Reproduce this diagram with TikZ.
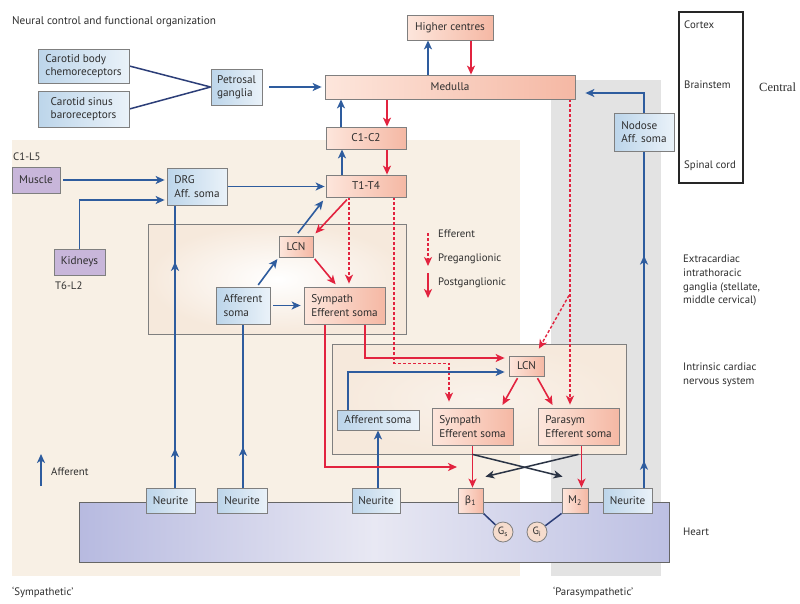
\documentclass[tikz,border=0pt]{standalone}
\usepackage{fontspec}
\setmainfont{PT Sans}
\newfontfamily\serifc{Liberation Serif}
\newfontfamily\dvs{DejaVu Sans}
\usetikzlibrary{arrows.meta,calc,decorations.markings}
\pgfdeclarelayer{bg}
\pgfdeclarelayer{lines}
\pgfsetlayers{bg,lines,main}
\definecolor{lblue}{HTML}{2E5C9E}
\definecolor{lred}{HTML}{E2233F}
\definecolor{dkline}{HTML}{2B3445}
\definecolor{boxgray}{HTML}{7F7F7F}
\definecolor{txt}{HTML}{2E2E2E}
\definecolor{pinkL}{HTML}{FDE6DC}
\definecolor{pinkR}{HTML}{F5B8A4}
\definecolor{blueL}{HTML}{BCD5EA}
\definecolor{blueR}{HTML}{EAF2F9}
\definecolor{purp}{HTML}{C8B6DA}
\definecolor{beige}{HTML}{F8F0E5}
\definecolor{grayb}{HTML}{E3E3E3}
\definecolor{exbg}{HTML}{F6E9DC}
\definecolor{heartL}{HTML}{B7BAE0}
\definecolor{heartM}{HTML}{E8E8F3}
\definecolor{heartR}{HTML}{BDC0E3}
\definecolor{gfill}{HTML}{F6DCCD}
\definecolor{HTML2}{HTML}{2C3E78}
\tikzset{
  box/.style={draw=boxgray, line width=0.8pt, inner sep=2pt, align=left,
    font=\fontsize{11.2}{13.5}\selectfont, text=txt},
  pbox/.style={box, left color=pinkL, right color=pinkR},
  bbox/.style={box, left color=blueL, right color=blueR},
  ubox/.style={box, fill=purp, draw=boxgray},
  tip/.style={-{Stealth[length=9pt,width=8pt,inset=2.5pt]}},
  bl/.style={draw=lblue, line width=1.6pt},
  barr/.style={bl, tip},
  rl/.style={draw=lred, line width=1.6pt},
  rarr/.style={rl, tip},
  rdash/.style={rarr, line width=1.4pt, dash pattern=on 3pt off 2pt},
  darr/.style={draw=dkline, line width=1.5pt, tip},
  dkl/.style={draw=HTML2, line width=1.5pt},
  midarr/.style={postaction={decorate, decoration={markings,
    mark=at position #1 with {\arrow{Stealth[length=9pt,width=8pt,inset=2.5pt]}}}}},
  lab/.style={font=\fontsize{10.8}{13.6}\selectfont, text=txt, align=left, inner sep=0pt},
  gc/.style={circle, draw=boxgray, line width=0.8pt, fill=gfill, minimum size=20pt,
    inner sep=0pt, font=\fontsize{10.5}{10}\selectfont, text=txt},
}
\begin{document}
\begin{tikzpicture}[x=1pt,y=-1pt]
\useasboundingbox (0,0) rectangle (800,603);

% ---------- main nodes ----------
\node[lab, anchor=west, font=\fontsize{11.2}{12}\selectfont] (title) at (12,22) {Neural control and functional organization};

\node[pbox, minimum width=86pt, minimum height=25pt] (higher) at (450,27.5) {Higher centres};
\node[pbox, minimum width=250pt, minimum height=24pt] (medulla) at (450,87) {Medulla};
\node[bbox, minimum width=91pt, minimum height=34pt] (cbody) at (83.5,66) {Carotid body\\chemoreceptors};
\node[bbox, minimum width=91pt, minimum height=36pt] (csinus) at (83.5,109) {Carotid sinus\\baroreceptors};
\node[bbox, minimum width=51pt, minimum height=36pt] (petro) at (236.5,87) {Petrosal\\ganglia};
\node[pbox, minimum width=80pt, minimum height=22pt] (c1c2) at (366,138) {C1-C2};
\node[pbox, minimum width=80pt, minimum height=22pt] (t1t4) at (366,186) {T1-T4};
\node[ubox, minimum width=48pt, minimum height=26pt] (muscle) at (36,180) {Muscle};
\node[ubox, minimum width=51pt, minimum height=26pt] (kidneys) at (79.5,262) {Kidneys};
\node[bbox, minimum width=60pt, minimum height=37pt] (drg) at (197,186.5) {DRG\\Aff. soma};
\node[pbox, minimum width=34pt, minimum height=21pt] (lcna) at (296,246.5) {LCN};
\node[bbox, minimum width=54pt, minimum height=37pt] (affa) at (243,305.5) {Afferent\\soma};
\node[pbox, minimum width=81pt, minimum height=37pt] (sympa) at (344.5,305.5) {Sympath\\Efferent soma};
\node[pbox, minimum width=35pt, minimum height=20pt] (lcnb) at (526.5,366) {LCN};
\node[bbox, minimum width=82pt, minimum height=20pt] (affb) at (378,420) {Afferent soma};
\node[pbox, minimum width=81pt, minimum height=37pt] (sympb) at (472.5,426.5) {Sympath\\Efferent soma};
\node[pbox, minimum width=81pt, minimum height=37pt] (para) at (578.5,426.5) {Parasym\\Efferent soma};
\node[bbox, minimum width=60pt, minimum height=38pt] (nodose) at (644,132) {Nodose\\Aff. soma};
\node[bbox, minimum width=49pt, minimum height=25pt] (nA) at (170.5,500.5) {Neurite};
\node[bbox, minimum width=50pt, minimum height=25pt] (nB) at (242,500.5) {Neurite};
\node[bbox, minimum width=48pt, minimum height=25pt] (nC) at (376,500.5) {Neurite};
\node[bbox, minimum width=49pt, minimum height=25pt] (nD) at (627.5,500.5) {Neurite};
\node[pbox, minimum width=25pt, minimum height=25pt, inner sep=0pt] (beta) at (470.5,500.5) {{\dvs\fontsize{10}{10}\selectfont β}\textsubscript{1}};
\node[pbox, minimum width=26pt, minimum height=25pt, inner sep=0pt] (m2) at (575,500.5) {M\textsubscript{2}};
\node[gc] (gs) at (503,532) {G\textsubscript{s}};
\node[gc] (gi) at (537,532) {G\textsubscript{i}};

% right-hand labels
\draw[line width=1.1pt, draw=black!85] (679,12) rectangle (743,183);
\node[lab, anchor=west] (lcortex) at (684,25) {Cortex};
\node[lab, anchor=west] (lbrain) at (684,85) {Brainstem};
\node[lab, anchor=west] (lspinal) at (684,166) {Spinal cord};
\node[lab, anchor=west, font=\serifc\fontsize{12.5}{14}\selectfont] (lcentral) at (759,87) {Central};
\node[lab, anchor=north west] (lextra) at (683,255) {Extracardiac\\intrathoracic\\ganglia (stellate,\\middle cervical)};
\node[lab, anchor=north west] (lintr) at (683,363) {Intrinsic cardiac\\nervous system};
\node[lab, anchor=west] (lheart) at (683,532) {Heart};

% legend texts
\node[lab, anchor=west] (leff) at (438,234) {Efferent};
\node[lab, anchor=west] (lpre) at (438,259) {Preganglionic};
\node[lab, anchor=west] (lpost) at (438,283) {Postganglionic};
\node[lab, anchor=west] (laff) at (51,472) {Afferent};
\node[lab, anchor=west] (lc1l5) at (13,157) {C1-L5};
\node[lab, anchor=west] (lt6l2) at (55,286) {T6-L2};
\node[lab, anchor=west] (lsym) at (12,592) {‘Sympathetic’};
\node[lab, anchor=west] (lpar) at (553,592) {‘Parasympathetic’};

\coordinate (bend) at (457,467);
\coordinate (legA1) at (428,233);
\coordinate (legA2) at (428,266);
\coordinate (legB1) at (428,273);
\coordinate (legB2) at (428,298);
\coordinate (legC1) at (41,486);
\coordinate (legC2) at (41,454);

% ---------- background ----------
\begin{pgfonlayer}{bg}
\fill[white] (0,0) rectangle (800,603);
\fill[beige] (12,140) rectangle (520,576);
\fill[grayb] (551,80) rectangle (661,576);
\node[draw=boxgray, line width=0.8pt, inner color=white, outer color=exbg,
  minimum width=258pt, minimum height=110pt] (extra) at (277,279) {};
\node[draw=boxgray, line width=0.8pt, inner color=white!40!exbg, outer color=exbg,
  minimum width=294pt, minimum height=110pt] (intr) at (479,399) {};
\node[draw=boxgray!80!black, line width=0.8pt, left color=heartL, right color=heartR, middle color=heartM,
  minimum width=590pt, minimum height=60pt] (heart) at (374,532) {};
\end{pgfonlayer}

% ---------- connectors ----------
\begin{pgfonlayer}{lines}
\draw[dkl] (cbody.east) -- (petro.west);
\draw[dkl] (csinus.east) -- (petro.west);
\draw[barr, shorten <=7pt, shorten >=3pt] (petro.east) -- (medulla.west);
\draw[barr] ($(medulla.north)+(-22,0)$) -- ($(higher.south)+(-22,0)$);
\draw[rarr] ($(higher.south)+(21,0)$) -- ($(medulla.north)+(21,0)$);
\draw[barr] ($(c1c2.north)+(-25,0)$) -- ($(medulla.south)+(-109,0)$);
\draw[rarr] ($(medulla.south)+(-63,0)$) -- ($(c1c2.north)+(21,0)$);
\draw[barr] ($(t1t4.north)+(-24,0)$) -- ($(c1c2.south)+(-24,0)$);
\draw[rarr] ($(c1c2.south)+(21,0)$) -- ($(t1t4.north)+(21,0)$);
\draw[barr, shorten <=3pt, shorten >=2pt] (muscle.east) -- (muscle.east -| drg.west);
\draw[barr, shorten >=2pt] (kidneys.north) |- ($(drg.west)+(0,13.5)$);
\draw[barr, shorten >=1pt] (drg.east) -- (drg.east -| t1t4.west);
% afferent verticals
\draw[bl, midarr=0.14, midarr=0.8] ($(nA.north)+(4.5,0)$) -- ($(drg.south)+(-22,0)$);
\draw[bl, midarr=0.25] (nB.north -| affa.south) -- (affa.south);
\draw[barr] (nC.north -| affb.south) -- (affb.south);
\draw[bl, midarr=0.08, midarr=0.69] (nD.north -| nodose.south) -- (nodose.south);
\draw[barr, shorten >=10pt] (nodose.north) |- ($(medulla.east)+(0,6)$);
% extracardiac ganglia
\draw[rarr, shorten <=3pt, shorten >=3pt] ($(t1t4.south)+(-17,0)$) -- (lcna.north east);
\draw[barr, shorten <=3pt, shorten >=4pt] (lcna.north) -- (t1t4.south west);
\draw[rarr, shorten <=2pt, shorten >=3pt] (lcna.south east) -- ($(sympa.north)+(-7,0)$);
\draw[barr, shorten <=2pt, shorten >=2pt] ($(affa.north)+(14,0)$) -- (lcna.south west);
\draw[barr, shorten <=3pt, shorten >=3pt] (affa.east) -- (sympa.west);
\draw[rdash, shorten >=3pt] ($(t1t4.south)+(-17,0)$) -- ($(sympa.north)+(4.5,0)$);
\draw[rdash, shorten >=6pt] ($(t1t4.south)+(28,0)$) -- ++(0,166) -| ($(sympb.north)+(-23.5,0)$);
\draw[rarr, shorten >=4pt] ($(sympa.south)+(20.5,0)$) |- ($(lcnb.west)+(0,-8)$);
\draw[rarr] ($(sympa.south)+(-19.5,0)$) |- (bend);
% intrinsic cardiac
\draw[barr, shorten >=4pt] ($(affb.north)+(-30,0)$) |- ($(lcnb.west)+(0,6)$);
\draw[rarr, shorten <=2pt, shorten >=3pt] ($(lcnb.south)+(-8,0)$) -- ($(sympb.north)+(28.5,0)$);
\draw[rarr, shorten <=2pt, shorten >=3pt] ($(lcnb.south)+(10,0)$) -- ($(para.north)+(-24.5,0)$);
\draw[rdash, shorten >=3pt] ($(medulla.south)+(120,0)$) -- ($(para.north)+(-8.5,0)$);
\draw[rdash, shorten >=8pt] ($(medulla.south)+(119,196)$) -- ($(lcnb.north)+(8.5,0)$);
\draw[rarr] (sympb.south) -- (sympb.south |- beta.north);
\draw[rarr] ($(para.south)+(3,0)$) -- ($(m2.north)+(6.5,0)$);
\draw[darr] (sympb.south |- intr.south) -- ($(m2.north west)+(1,-11)$);
\draw[darr] (para.south |- intr.south) -- ($(beta.north east)+(2,-11)$);
\draw[dkl] (beta.south east) -- (gs);
\draw[dkl] (m2.south west) -- (gi);
% legend
\draw[rdash] (legA1) -- (legA2);
\draw[rarr] (legB1) -- (legB2);
\draw[barr] (legC1) -- (legC2);
\end{pgfonlayer}
\end{tikzpicture}
\end{document}
